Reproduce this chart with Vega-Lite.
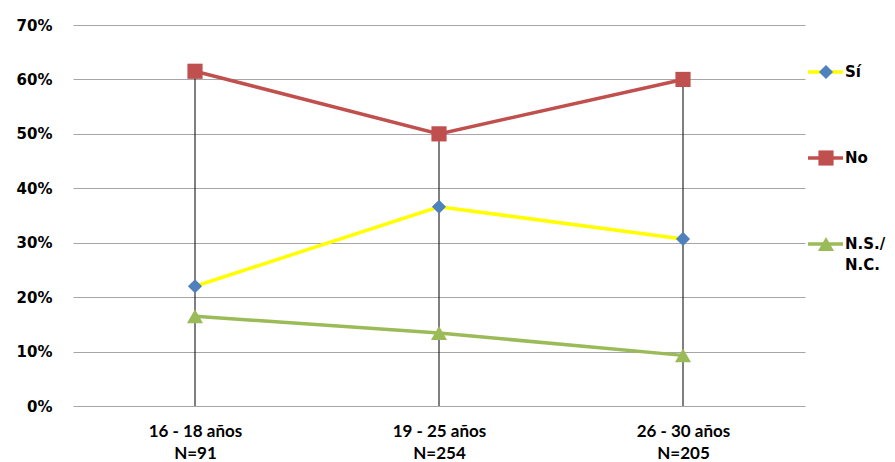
{
  "$schema": "https://vega.github.io/schema/vega-lite/v6.json",
  "background": "white",
  "padding": {"left": 16, "top": 18, "right": 0, "bottom": 0},
  "config": {"view": {"stroke": null}, "concat": {"spacing": 0}},
  "datasets": {
    "d": [
      {"grupo": "16 - 18 años|N=91", "serie": "Sí", "valor": 0.22},
      {"grupo": "19 - 25 años|N=254", "serie": "Sí", "valor": 0.366},
      {"grupo": "26 - 30 años|N=205", "serie": "Sí", "valor": 0.307},
      {"grupo": "16 - 18 años|N=91", "serie": "No", "valor": 0.615},
      {"grupo": "19 - 25 años|N=254", "serie": "No", "valor": 0.5},
      {"grupo": "26 - 30 años|N=205", "serie": "No", "valor": 0.6},
      {"grupo": "16 - 18 años|N=91", "serie": "N.S./N.C.", "valor": 0.165},
      {"grupo": "19 - 25 años|N=254", "serie": "N.S./N.C.", "valor": 0.134},
      {"grupo": "26 - 30 años|N=205", "serie": "N.S./N.C.", "valor": 0.093}
    ],
    "leg": [
      {"serie": "Sí", "etiqueta": "Sí"},
      {"serie": "No", "etiqueta": "No"},
      {"serie": "N.S./N.C.", "etiqueta": "N.S./\nN.C."}
    ]
  },
  "hconcat": [
    {
      "width": 732,
      "height": 381,
      "data": {"name": "d"},
      "encoding": {
        "x": {
          "field": "grupo", "type": "nominal", "sort": null,
          "scale": {"type": "point", "padding": 0.5},
          "axis": {
            "title": null, "domain": false, "ticks": false, "grid": false,
            "labelExpr": "split(datum.label, '|')",
            "labelFont": "Lato", "labelFontWeight": "bold", "labelFontSize": 17,
            "labelColor": "black", "labelLineHeight": 22, "labelPadding": 17,
            "labelAngle": 0
          }
        }
      },
      "layer": [
        {
          "mark": {"type": "rule", "color": "black", "strokeWidth": 1},
          "encoding": {
            "y": {
              "aggregate": "max", "field": "valor", "type": "quantitative",
              "scale": {"domain": [0, 0.7], "nice": false},
              "axis": {
                "title": null, "values": [0, 0.1, 0.2, 0.3, 0.4, 0.5, 0.6, 0.7],
                "format": ".0%", "domain": false, "ticks": false,
                "grid": true, "gridColor": "#a6a6a6", "gridWidth": 1,
                "labelFont": "DejaVu Sans", "labelFontWeight": "bold",
                "labelFontSize": 15, "labelColor": "black", "labelPadding": 21
              }
            },
            "y2": {"datum": 0}
          }
        },
        {
          "mark": {"type": "line", "strokeWidth": 3.5},
          "encoding": {
            "y": {"field": "valor", "type": "quantitative"},
            "stroke": {
              "field": "serie", "type": "nominal",
              "scale": {"domain": ["Sí", "No", "N.S./N.C."], "range": ["#ffff00", "#c0504d", "#9bbb59"]},
              "legend": null
            }
          }
        },
        {
          "mark": {"type": "point", "filled": true, "opacity": 1},
          "encoding": {
            "y": {"field": "valor", "type": "quantitative"},
            "shape": {
              "field": "serie", "type": "nominal",
              "scale": {"domain": ["Sí", "No", "N.S./N.C."], "range": ["diamond", "square", "triangle-up"]},
              "legend": null
            },
            "fill": {
              "field": "serie", "type": "nominal",
              "scale": {"domain": ["Sí", "No", "N.S./N.C."], "range": ["#4f81bd", "#c0504d", "#9bbb59"]},
              "legend": null
            },
            "size": {
              "field": "serie", "type": "nominal",
              "scale": {"domain": ["Sí", "No", "N.S./N.C."], "range": [200, 260, 220]},
              "legend": null
            }
          }
        }
      ]
    },
    {
      "width": 90,
      "height": 381,
      "data": {"name": "leg"},
      "encoding": {
        "y": {
          "field": "serie", "type": "nominal", "sort": null,
          "scale": {"type": "point", "domain": ["Sí", "No", "N.S./N.C."], "range": [47, 219], "padding": 0},
          "axis": null
        }
      },
      "layer": [
        {
          "mark": {"type": "rule", "strokeWidth": 3.5},
          "encoding": {
            "x": {"datum": 3, "type": "quantitative", "scale": {"domain": [0, 90], "nice": false}, "axis": null},
            "x2": {"datum": 38},
            "stroke": {
              "field": "serie", "type": "nominal",
              "scale": {"domain": ["Sí", "No", "N.S./N.C."], "range": ["#ffff00", "#c0504d", "#9bbb59"]},
              "legend": null
            }
          }
        },
        {
          "mark": {"type": "point", "filled": true, "opacity": 1},
          "encoding": {
            "x": {"datum": 21, "type": "quantitative"},
            "shape": {
              "field": "serie", "type": "nominal",
              "scale": {"domain": ["Sí", "No", "N.S./N.C."], "range": ["diamond", "square", "triangle-up"]},
              "legend": null
            },
            "fill": {
              "field": "serie", "type": "nominal",
              "scale": {"domain": ["Sí", "No", "N.S./N.C."], "range": ["#4f81bd", "#c0504d", "#9bbb59"]},
              "legend": null
            },
            "size": {
              "field": "serie", "type": "nominal",
              "scale": {"domain": ["Sí", "No", "N.S./N.C."], "range": [200, 260, 220]},
              "legend": null
            }
          }
        },
        {
          "mark": {
            "type": "text", "align": "left", "baseline": "alphabetic", "dy": 5,
            "font": "DejaVu Sans", "fontWeight": "bold", "fontSize": 15,
            "lineBreak": "\n", "lineHeight": 21, "color": "black"
          },
          "encoding": {
            "x": {"datum": 40, "type": "quantitative"},
            "text": {"field": "etiqueta"}
          }
        }
      ]
    }
  ]
}
